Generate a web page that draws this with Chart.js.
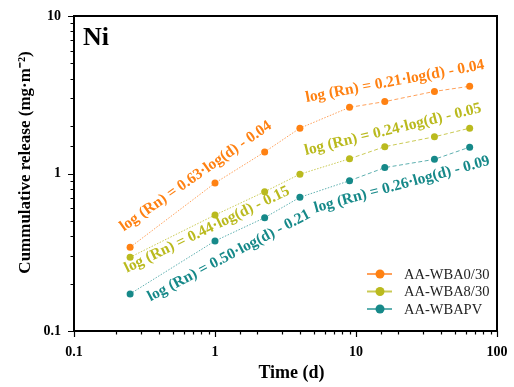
<!DOCTYPE html>
<html><head><meta charset="utf-8">
<script src="https://cdn.jsdelivr.net/npm/chart.js@4/dist/chart.umd.min.js"></script>
<style>html,body{margin:0;padding:0;background:#fff}#wrap{width:514px;height:387px}</style>
</head><body><div id="wrap"><canvas id="c" width="514" height="387"></canvas></div>
<script>
// ---- data ----
const days = [0.25, 1, 2.25, 4, 9, 16, 36, 64];
const seriesNames = ['AA-WBA0/30', 'AA-WBA8/30', 'AA-WBAPV'];
const wba030 = [0.34, 0.87, 1.37, 1.94, 2.63, 2.86, 3.32, 3.58];
const wba830 = [0.294, 0.545, 0.766, 0.99, 1.24, 1.48, 1.71, 1.94];
const wbapv  = [0.172, 0.373, 0.524, 0.706, 0.90, 1.09, 1.23, 1.47];
const xTickLabels = [0.1, 1, 10, 100];
const yTickLabels = [0.1, 1, 10];
const equations = [
  'log (Rn) = 0.63·log(d) - 0.04',
  'log (Rn) = 0.21·log(d) - 0.04',
  'log (Rn) = 0.24·log(d) - 0.05',
  'log (Rn) = 0.26·log(d) - 0.09',
  'log (Rn) = 0.44·log(d) - 0.15',
  'log (Rn) = 0.50·log(d) - 0.21'
];
const panelLabel = 'Ni';
const xTitle = 'Time (d)';
const yTitle = 'Cummulative release (mg·m⁻²)';

// ---- styles / layout ----
const pointColors = ['#FF8112', '#BABA1E', '#168989'];
const lineColors  = ['#FFA05A', '#CACA55', '#5FB0B0'];
// equation placement: [series colour index, anchor x (days), anchor y, angle deg]
const eqPlace = [
  [0, 0.73, 0.96, -35],
  [0, 18.9, 3.84, -10.5],
  [1, 18.3, 1.90, -13.7],
  [2, 21.2, 0.85, -15.3],
  [1, 0.877, 0.44, -25.8],
  [2, 1.256, 0.30, -27.7]
];
const SERIF = '"Liberation Serif", "Times New Roman", serif';

const allSeries = [wba030, wba830, wbapv];
const datasets = allSeries.map((vals, i) => ({
  label: seriesNames[i],
  data: days.map((d, k) => ({x: d, y: vals[k]})),
  borderColor: lineColors[i],
  backgroundColor: pointColors[i],
  pointBackgroundColor: pointColors[i],
  pointBorderColor: pointColors[i],
  pointRadius: 3.5,
  pointBorderWidth: 0,
  borderWidth: 1,
  segment: { borderDash: ctx => ctx.p0DataIndex >= 4 ? [4, 2.5] : [1.5, 1.5] },
  fill: false,
  tension: 0
}));

function isPow10(v) { const l = Math.log10(v); return Math.abs(l - Math.round(l)) < 1e-6; }
function labelFor(list, v) {
  const hit = list.find(t => Math.abs(t - v) / t < 1e-6);
  return hit === undefined ? '' : String(hit);
}

const decor = {
  id: 'decor',
  afterDraw(chart) {
    const {ctx, chartArea: ca, scales: {x, y}} = chart;
    ctx.save();
    // frame
    ctx.strokeStyle = '#000'; ctx.lineWidth = 2;
    ctx.strokeRect(ca.left, ca.top, ca.right - ca.left, ca.bottom - ca.top);
    // ticks
    ctx.lineWidth = 1.2;
    ctx.beginPath();
    x.ticks.forEach(t => {
      const px = Math.round(x.getPixelForValue(t.value)) + 0.5;
      const len = isPow10(t.value) ? 6 : 3.5;
      ctx.moveTo(px, ca.bottom); ctx.lineTo(px, ca.bottom + len);
    });
    y.ticks.forEach(t => {
      const py = Math.round(y.getPixelForValue(t.value)) + 0.5;
      const len = isPow10(t.value) ? 6 : 3.5;
      ctx.moveTo(ca.left, py); ctx.lineTo(ca.left - len, py);
    });
    ctx.stroke();
    // axis titles
    ctx.fillStyle = '#000';
    ctx.textAlign = 'center'; ctx.textBaseline = 'middle';
    ctx.font = 'bold 18px ' + SERIF;
    ctx.fillText(xTitle, (ca.left + ca.right) / 2 + 6, ca.bottom + 42);
    ctx.save();
    ctx.translate(26, (ca.top + ca.bottom) / 2 - 11);
    ctx.rotate(-Math.PI / 2);
    ctx.font = 'bold 17px ' + SERIF;
    ctx.fillText(yTitle, 0, 0);
    ctx.restore();
    // panel label
    ctx.font = 'bold 26px ' + SERIF;
    ctx.textAlign = 'left'; ctx.textBaseline = 'alphabetic';
    ctx.fillText(panelLabel, ca.left + 9, ca.top + 29);
    // equations
    ctx.font = 'bold 15.5px ' + SERIF;
    ctx.textAlign = 'center'; ctx.textBaseline = 'middle';
    equations.forEach((txt, i) => {
      const [ci, dx, dy, ang] = eqPlace[i];
      ctx.save();
      ctx.translate(x.getPixelForValue(dx), y.getPixelForValue(dy));
      ctx.rotate(ang * Math.PI / 180);
      ctx.fillStyle = pointColors[ci];
      ctx.fillText(txt, 0, 0);
      ctx.restore();
    });
    // legend
    ctx.font = '14.5px ' + SERIF;
    ctx.textAlign = 'left'; ctx.textBaseline = 'middle';
    chart.data.datasets.forEach((ds, i) => {
      const ly = ca.bottom - 57 + i * 17.5;
      const lx = ca.right - 130;
      ctx.strokeStyle = lineColors[i]; ctx.lineWidth = 2;
      ctx.beginPath(); ctx.moveTo(lx, ly); ctx.lineTo(lx + 25, ly); ctx.stroke();
      ctx.fillStyle = pointColors[i];
      ctx.beginPath(); ctx.arc(lx + 13, ly, 4.5, 0, Math.PI * 2); ctx.fill();
      ctx.fillStyle = '#222';
      ctx.fillText(ds.label, ca.right - 93, ly + 1);
    });
    ctx.restore();
  }
};

new Chart(document.getElementById('c'), {
  type: 'line',
  data: { datasets },
  options: {
    responsive: false, animation: false, devicePixelRatio: 1,
    layout: { padding: { left: 0, top: 16, right: 17, bottom: 0 } },
    plugins: { legend: { display: false }, tooltip: { enabled: false } },
    scales: {
      x: {
        type: 'logarithmic', min: 0.1, max: 100,
        grid: { display: false }, border: { display: false },
        ticks: { autoSkip: false, maxRotation: 0, minRotation: 0, padding: 5, color: '#000',
          font: { family: SERIF, size: 14, weight: 'bold' },
          callback: v => labelFor(xTickLabels, v) },
        title: { display: false },
        afterFit: s => { s.height = 56; }
      },
      y: {
        type: 'logarithmic', min: 0.1, max: 10,
        grid: { display: false }, border: { display: false },
        ticks: { autoSkip: false, padding: 5, color: '#000',
          font: { family: SERIF, size: 14, weight: 'bold' },
          callback: v => labelFor(yTickLabels, v) },
        title: { display: false },
        afterFit: s => { s.width = 74; }
      }
    }
  },
  plugins: [decor]
});
</script></body></html>
